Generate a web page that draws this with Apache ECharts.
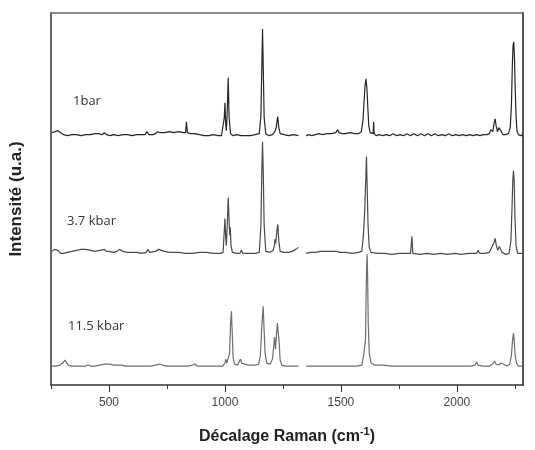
<!DOCTYPE html>
<html>
<head>
<meta charset="utf-8">
<script src="https://cdn.jsdelivr.net/npm/echarts@6/dist/echarts.min.js"></script>
<style>
html, body { margin: 0; padding: 0; background: #fff; }
#chart { width: 535px; height: 450px; }
</style>
</head>
<body>
<div id="chart"></div>
<script>
// spectres Raman a trois pressions, [decalage cm-1, intensite u.a.] (traces decalees)
var labels = ['1bar', '3.7 kbar', '11.5 kbar'];
var majorTicks = [500, 1000, 1500, 2000];
var minorTicks = [250, 750, 1250, 1750, 2250];

var bar1 = [
	[255, 253], [268, 254], [280, 255], [292, 253], [305, 251], [320, 250], [340, 251], [360, 251],
	[380, 250], [400, 251], [420, 251], [440, 252], [455, 252], [470, 251], [480, 253], [490, 251],
	[505, 250], [520, 251], [540, 250], [560, 251], [580, 251], [600, 250], [620, 251], [640, 251],
	[655, 251], [665, 254], [672, 251], [690, 251], [700, 252], [710, 254], [720, 253], [740, 253],
	[760, 254], [780, 253], [800, 254], [820, 253], [830, 253], [834, 264], [838, 253], [850, 252],
	[870, 252], [890, 251], [910, 250], [930, 250], [950, 251], [970, 250], [985, 250], [992, 252],
	[997, 268], [1000, 283], [1003, 262], [1006, 255], [1010, 275], [1014, 308], [1018, 268], [1024, 252],
	[1035, 250], [1050, 251], [1070, 250], [1090, 250], [1110, 250], [1130, 251], [1148, 252], [1155, 270],
	[1159, 320], [1162, 357], [1165, 320], [1169, 268], [1176, 252], [1190, 250], [1205, 251], [1215, 254],
	[1221, 258], [1225, 266], [1228, 269], [1232, 258], [1238, 252], [1255, 251], [1275, 250], [1295, 251],
	[1317, 250], [1330, '-'],
	[1350, 250], [1362, 251], [1375, 250], [1390, 251], [1405, 252], [1420, 251], [1440, 252], [1460, 252],
	[1478, 253], [1486, 256], [1492, 253], [1505, 252], [1520, 252], [1540, 253], [1560, 252], [1575, 252],
	[1588, 254], [1595, 265], [1600, 285], [1604, 300], [1608, 307], [1612, 298], [1616, 278], [1620, 260],
	[1626, 253], [1634, 251], [1639, 252], [1641, 264], [1643, 252], [1652, 250], [1665, 251], [1680, 250],
	[1695, 251], [1710, 250], [1725, 252], [1740, 250], [1755, 251], [1770, 250], [1785, 252], [1800, 250],
	[1815, 252], [1830, 250], [1845, 252], [1860, 250], [1875, 252], [1890, 250], [1905, 252], [1920, 250],
	[1935, 251], [1950, 250], [1965, 252], [1980, 250], [1995, 251], [2010, 250], [2025, 251], [2040, 250],
	[2055, 251], [2070, 250], [2085, 251], [2100, 250], [2115, 251], [2130, 251], [2140, 252], [2146, 256],
	[2150, 257], [2155, 254], [2160, 262], [2165, 267], [2169, 260], [2175, 254], [2181, 258], [2187, 259],
	[2192, 254], [2198, 251], [2210, 251], [2222, 252], [2230, 258], [2235, 280], [2239, 320], [2242, 340],
	[2245, 344], [2248, 330], [2251, 300], [2255, 270], [2259, 255], [2265, 251], [2275, 250], [2285, 251]
];

var kbar37 = [
	[255, 134], [265, 136], [272, 137], [280, 135], [292, 132], [305, 132], [320, 133], [340, 134],
	[360, 135], [380, 136], [400, 136], [420, 135], [440, 134], [460, 135], [480, 136], [490, 134],
	[500, 134], [520, 133], [535, 134], [545, 136], [552, 137], [560, 134], [580, 133], [600, 133],
	[620, 133], [640, 132], [660, 133], [668, 136], [675, 133], [700, 134], [715, 136], [725, 135],
	[740, 134], [760, 133], [780, 133], [800, 133], [830, 132], [860, 132], [890, 133], [920, 133],
	[950, 132], [980, 132], [992, 133], [996, 150], [1000, 167], [1003, 150], [1006, 140], [1010, 160],
	[1014, 188], [1018, 165], [1021, 150], [1023, 158], [1026, 140], [1032, 133], [1050, 132], [1065, 132],
	[1071, 135], [1077, 132], [1100, 132], [1130, 132], [1148, 133], [1155, 160], [1159, 215], [1162, 244],
	[1165, 215], [1169, 160], [1176, 134], [1195, 133], [1208, 135], [1213, 140], [1216, 146], [1219, 142],
	[1224, 155], [1228, 161], [1232, 145], [1238, 134], [1255, 133], [1275, 133], [1290, 134], [1305, 136],
	[1317, 138], [1330, '-'],
	[1350, 132], [1370, 133], [1390, 133], [1410, 134], [1430, 134], [1450, 134], [1470, 134], [1483, 134],
	[1489, 136], [1495, 133], [1520, 133], [1550, 132], [1575, 133], [1590, 134], [1597, 150], [1602, 172],
	[1605, 174], [1607, 205], [1610, 229], [1613, 200], [1617, 160], [1622, 138], [1630, 133], [1660, 132],
	[1690, 132], [1720, 131], [1750, 132], [1780, 132], [1800, 132], [1806, 149], [1810, 132], [1840, 131],
	[1870, 132], [1900, 131], [1930, 132], [1960, 131], [1990, 132], [2020, 131], [2050, 132], [2085, 132],
	[2092, 135], [2098, 132], [2120, 132], [2140, 133], [2148, 137], [2152, 136], [2160, 143], [2165, 147],
	[2170, 140], [2176, 135], [2183, 139], [2188, 139], [2194, 133], [2210, 131], [2225, 132], [2233, 145],
	[2238, 180], [2241, 205], [2244, 215], [2247, 205], [2250, 170], [2255, 140], [2262, 132], [2285, 132]
];

var kbar115 = [
	[255, 19], [270, 19], [290, 20], [300, 22], [305, 24], [310, 25], [316, 23], [325, 20],
	[340, 19], [360, 19], [380, 19], [400, 19], [410, 20], [420, 19], [440, 19], [460, 20],
	[480, 21], [500, 21], [520, 20], [540, 20], [555, 20], [570, 19], [600, 19], [630, 19],
	[660, 19], [680, 19], [700, 20], [720, 21], [730, 20], [750, 19], [780, 19], [810, 19],
	[840, 19], [860, 20], [870, 21], [880, 19], [920, 19], [960, 19], [990, 19], [1000, 22],
	[1004, 26], [1008, 22], [1015, 20], [1020, 32], [1024, 60], [1028, 74], [1031, 55], [1035, 28],
	[1041, 21], [1055, 20], [1062, 22], [1067, 26], [1072, 22], [1080, 20], [1100, 20], [1130, 20],
	[1145, 21], [1153, 30], [1158, 55], [1162, 70], [1165, 79], [1168, 60], [1173, 32], [1180, 22],
	[1195, 21], [1205, 26], [1210, 38], [1214, 48], [1218, 36], [1222, 50], [1226, 62], [1229, 64],
	[1233, 45], [1238, 25], [1245, 20], [1260, 19], [1280, 19], [1300, 19], [1317, 19], [1330, '-'],
	[1350, 19], [1380, 19], [1420, 19], [1460, 19], [1500, 19], [1540, 19], [1570, 19], [1590, 20],
	[1598, 30], [1604, 42], [1606, 46], [1608, 80], [1611, 120], [1613, 131], [1615, 110], [1618, 60],
	[1622, 32], [1630, 22], [1645, 20], [1680, 20], [1720, 19], [1780, 19], [1840, 19], [1900, 19],
	[1960, 19], [2020, 19], [2060, 19], [2078, 20], [2085, 23], [2091, 20], [2110, 19], [2124, 19],
	[2140, 19], [2155, 21], [2162, 24], [2168, 21], [2180, 20], [2190, 22], [2195, 23], [2200, 21],
	[2215, 19], [2228, 21], [2235, 30], [2240, 45], [2244, 52], [2247, 45], [2251, 30], [2257, 22],
	[2265, 19], [2285, 19]
];

var spectra = [bar1, kbar37, kbar115];
var colors = ['#262626', '#4a4a4a', '#6e6e6e'];
var labelPos = [[73, 104], [67, 224], [68, 329]];

var byId = function(id) {
	return document.getElementById(id);
};

var getOption = function() {
	var series = [];
	for (var i = 0; i < spectra.length; i++) {
		series.push({
			name: labels[i],
			type: 'line',
			data: spectra[i],
			showSymbol: false,
			connectNulls: false,
			lineStyle: { color: colors[i], width: 1.2 },
			silent: true
		});
	}
	var texts = [];
	for (var j = 0; j < labels.length; j++) {
		texts.push({
			type: 'text',
			left: labelPos[j][0],
			top: labelPos[j][1] - 9,
			style: { text: labels[j], fill: '#333', font: '13px "Open Sans"' }
		});
	}
	return {
		backgroundColor: '#fff',
		animation: false,
		grid: { left: 42, right: 12, top: 13, bottom: 64 },
		xAxis: [{
			type: 'value',
			position: 'bottom',
			min: 250,
			max: 2285,
			name: '{a|Décalage Raman (cm}{s|-1}{a|)}',
			nameLocation: 'middle',
			nameGap: 41,
			nameTextStyle: {
				rich: {
					a: { fontFamily: 'Liberation Sans', fontWeight: 'bold', fontSize: 16, color: '#222', lineHeight: 22 },
					s: { fontFamily: 'Liberation Sans', fontWeight: 'bold', fontSize: 11, color: '#222', verticalAlign: 'top', lineHeight: 22 }
				}
			},
			axisLine: { show: true, lineStyle: { color: '#333', width: 1.5 } },
			axisTick: { show: true, customValues: majorTicks, length: 7, inside: false, lineStyle: { color: '#333', width: 1 } },
			axisLabel: {
				customValues: majorTicks,
				margin: 12,
				color: '#444',
				fontSize: 12,
				fontFamily: 'Liberation Sans',
				formatter: function(v) { return String(v); }
			},
			splitLine: { show: false }
		}, {
			type: 'value',
			position: 'bottom',
			min: 250,
			max: 2285,
			axisLine: { show: false },
			axisTick: { show: true, customValues: minorTicks, length: 4, lineStyle: { color: '#333', width: 1 } },
			axisLabel: { show: false },
			splitLine: { show: false }
		}, {
			type: 'value',
			position: 'top',
			min: 250,
			max: 2285,
			axisLine: { show: true, lineStyle: { color: '#666', width: 1.5 } },
			axisTick: { show: false },
			axisLabel: { show: false },
			splitLine: { show: false }
		}],
		yAxis: [{
			type: 'value',
			position: 'left',
			min: 0,
			max: 373,
			name: 'Intensité (u.a.)',
			nameLocation: 'middle',
			nameGap: 26,
			nameTextStyle: { fontFamily: 'Liberation Sans', fontWeight: 'bold', fontSize: 17, color: '#222' },
			axisLine: { show: true, lineStyle: { color: '#333', width: 1.5 } },
			axisTick: { show: false },
			axisLabel: { show: false },
			splitLine: { show: false }
		}, {
			type: 'value',
			position: 'right',
			min: 0,
			max: 373,
			axisLine: { show: true, lineStyle: { color: '#555', width: 2 } },
			axisTick: { show: false },
			axisLabel: { show: false },
			splitLine: { show: false }
		}],
		graphic: texts,
		series: series
	};
};

var chart = echarts.init(byId('chart'));
chart.setOption(getOption());
</script>
</body>
</html>
